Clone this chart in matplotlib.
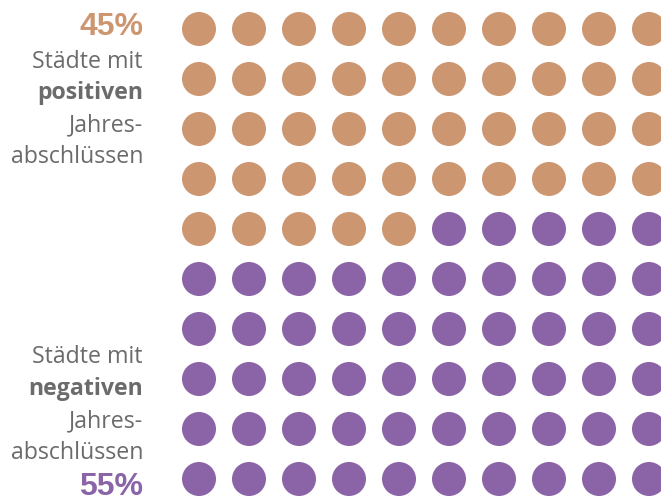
import matplotlib.pyplot as plt
from matplotlib.patches import Circle

# Anteil der Städte nach Jahresabschluss (in Prozent, 100 Punkte)
anteil_positiv = 45
anteil_negativ = 55
farbe_positiv = '#cc9670'
farbe_negativ = '#8b63a7'
textfarbe = '#6b6b6b'

zeilen, spalten = 10, 10

fig = plt.figure(figsize=(6.61, 4.97), dpi=100)
ax = fig.add_axes([0, 0, 1, 1])
ax.set_xlim(0, 661)
ax.set_ylim(497, 0)
ax.axis('off')

# Punktraster: zeilenweise von oben links gefüllt
x0, y0, abstand, radius = 199, 29, 50, 17
for i in range(zeilen * spalten):
    r, c = divmod(i, spalten)
    farbe = farbe_positiv if i < anteil_positiv else farbe_negativ
    ax.add_patch(Circle((x0 + c * abstand, y0 + r * abstand), radius,
                        color=farbe, lw=0))

xr = 143
body = dict(ha='right', va='baseline', fontsize=16.7, color=textfarbe,
            family='Open Sans')
zahl = dict(ha='right', va='baseline', fontsize=23, fontweight='bold',
            family='Liberation Sans')

ax.text(xr, 35, f'{anteil_positiv}%', color=farbe_positiv, **zahl)
ax.text(xr, 68, 'Städte mit', **body)
ax.text(xr, 99, 'positiven', fontweight='bold', **body)
ax.text(xr, 131, 'Jahres-', **body)
ax.text(xr, 163, 'abschlüssen', **body)

ax.text(xr, 363, 'Städte mit', **body)
ax.text(xr, 395, 'negativen', fontweight='bold', **body)
ax.text(xr, 427, 'Jahres-', **body)
ax.text(xr, 459, 'abschlüssen', **body)
ax.text(xr, 495, f'{anteil_negativ}%', color=farbe_negativ, **zahl)

fig.savefig('out.png', dpi=100)
